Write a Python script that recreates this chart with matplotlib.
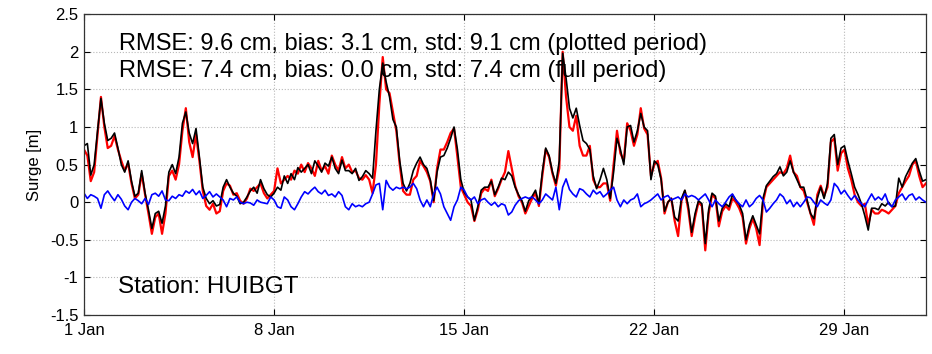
import numpy as np
import matplotlib
matplotlib.use("Agg")
import matplotlib.pyplot as plt
from matplotlib.ticker import FuncFormatter
import matplotlib.dates as mdates

plt.rcParams['font.family'] = ['Liberation Sans', 'DejaVu Sans']

# 3-hourly values, one row per day, from 1 Jan 00:00 to 1 Feb 00:00
model = [
    0.75, 0.78, 0.36, 0.5, 0.95, 1.38, 1.05, 0.82,
    0.85, 0.92, 0.72, 0.5, 0.4, 0.55, 0.28, 0.08,
    0.12, 0.42, 0.12, -0.1, -0.35, -0.15, -0.12, -0.28,
    -0.05, 0.4, 0.5, 0.38, 0.6, 1.05, 1.2, 0.92,
    0.78, 0.98, 0.6, 0.2, 0.05, -0.02, 0.02, -0.05,
    -0.03, 0.2, 0.3, 0.2, 0.12, 0.08, -0.02, 0.0,
    0.07, 0.15, 0.2, 0.12, 0.3, 0.18, 0.1, 0.07,
    0.12, 0.2, 0.16, 0.35, 0.25, 0.38, 0.3, 0.46,
    0.4, 0.45, 0.5, 0.38, 0.55, 0.48, 0.4, 0.52,
    0.48, 0.6, 0.45, 0.38, 0.56, 0.42, 0.42, 0.38,
    0.45, 0.29, 0.34, 0.42, 0.38, 0.32, 0.95, 1.5,
    1.85, 1.6, 1.4, 1.1, 1.0, 0.55, 0.25, 0.15,
    0.25, 0.42, 0.52, 0.6, 0.5, 0.45, 0.3, 0.02,
    0.4, 0.6, 0.62, 0.72, 0.85, 1.0, 0.7, 0.3,
    0.13, 0.07, 0.03, -0.24, -0.06, 0.16, 0.2, 0.2,
    0.28, 0.1, 0.2, 0.32, 0.3, 0.4, 0.35, 0.2,
    0.1, 0.02, -0.12, 0.02, 0.08, 0.16, -0.02, 0.4,
    0.72, 0.62, 0.4, 0.25, 0.55, 1.98, 1.65, 1.25,
    1.12, 1.25, 1.02, 0.82, 0.78, 0.7, 0.35, 0.18,
    0.3, 0.45, 0.3, 0.05, 0.4, 0.85, 0.7, 0.5,
    1.0, 1.02, 0.8, 0.95, 1.18, 1.0, 0.95, 0.3,
    0.55, 0.5, 0.3, -0.12, 0.0, 0.05, -0.2, -0.25,
    0.05, 0.16, -0.05, -0.4, -0.15, 0.02, -0.02, -0.55,
    -0.1, 0.12, 0.08, -0.25, -0.08, -0.02, -0.06, 0.1,
    0.03, -0.03, -0.15, -0.5, -0.3, -0.18, -0.3, -0.42,
    0.05, 0.22, 0.28, 0.34, 0.38, 0.47, 0.35, 0.4,
    0.55, 0.4, 0.3, 0.2, 0.2, 0.03, -0.15, -0.22,
    0.05, 0.2, 0.05, 0.25, 0.85, 0.9, 0.5, 0.72,
    0.75, 0.55, 0.38, 0.2, 0.1, -0.02, -0.18, -0.37,
    -0.08, -0.08, -0.1, -0.02, -0.05, 0.0, -0.06, -0.05,
    0.32, 0.2, 0.34, 0.43, 0.52, 0.58, 0.42, 0.28,
    0.3,
]

observed = [
    0.7, 0.62, 0.28, 0.4, 0.9, 1.4, 1.0, 0.72,
    0.75, 0.88, 0.7, 0.55, 0.42, 0.52, 0.25, 0.05,
    0.1, 0.38, 0.1, -0.15, -0.42, -0.2, -0.15, -0.42,
    -0.15, 0.35, 0.42, 0.3, 0.5, 0.95, 1.25, 0.8,
    0.6, 0.9, 0.55, 0.15, -0.05, -0.1, -0.02, -0.15,
    -0.12, 0.15, 0.25, 0.22, 0.1, 0.12, 0.02, -0.02,
    0.05, 0.18, 0.15, 0.2, 0.25, 0.12, 0.05, 0.1,
    0.15, 0.45, 0.25, 0.3, 0.35, 0.3, 0.42, 0.38,
    0.5, 0.4, 0.52, 0.45, 0.35, 0.55, 0.42, 0.48,
    0.38, 0.62, 0.5, 0.42, 0.6, 0.45, 0.5, 0.4,
    0.42, 0.32, 0.3, 0.36, 0.3, 0.12, 0.5, 1.3,
    1.93, 1.5, 1.45, 1.2, 0.95, 0.5, 0.15, 0.1,
    0.1, 0.3, 0.35, 0.55, 0.48, 0.4, 0.28, 0.0,
    0.45, 0.7, 0.7, 0.8, 0.92, 0.98, 0.6, 0.2,
    0.1, 0.0, -0.05, -0.25, -0.1, 0.12, 0.18, 0.15,
    0.3, 0.08, 0.18, 0.3, 0.4, 0.68, 0.45, 0.22,
    0.08, 0.0, -0.15, -0.05, 0.05, 0.12, -0.05, 0.35,
    0.7, 0.6, 0.38, 0.22, 0.45, 2.0, 1.4, 1.0,
    0.95, 1.15, 0.75, 0.62, 0.62, 0.75, 0.3, 0.2,
    0.2, 0.25, 0.25, 0.02, 0.5, 0.95, 0.65, 0.55,
    1.05, 0.95, 0.75, 0.9, 1.25, 0.98, 0.9, 0.35,
    0.5, 0.55, 0.32, -0.15, 0.0, 0.05, -0.25, -0.45,
    0.02, 0.15, -0.1, -0.45, -0.2, 0.0, -0.05, -0.64,
    -0.15, 0.1, 0.05, -0.32, -0.12, -0.05, -0.1, 0.05,
    0.0, -0.08, -0.2, -0.55, -0.35, -0.22, -0.35, -0.57,
    0.0, 0.2, 0.25, 0.3, 0.35, 0.4, 0.38, 0.45,
    0.62, 0.4, 0.35, 0.2, 0.15, 0.0, -0.15, -0.3,
    0.1, 0.22, 0.08, 0.2, 0.8, 0.85, 0.42, 0.65,
    0.7, 0.45, 0.3, 0.1, 0.0, -0.05, -0.02, -0.3,
    -0.1, -0.15, -0.15, -0.1, -0.12, -0.15, -0.1, -0.05,
    0.12, 0.2, 0.28, 0.35, 0.5, 0.55, 0.35, 0.2,
    0.25,
]

residual = [
    0.12, 0.05, 0.1, 0.08, 0.05, -0.08, 0.1, 0.15,
    0.08, 0.02, 0.1, 0.04, -0.05, -0.1, 0.0, 0.05,
    0.02, -0.02, 0.05, -0.03, 0.1, 0.12, 0.08, 0.15,
    0.03, 0.02, 0.08, 0.05, 0.1, 0.08, 0.15, 0.12,
    0.17, 0.1, 0.15, 0.05, 0.09, 0.14, 0.07, 0.11,
    0.07, 0.03, -0.06, 0.05, 0.03, 0.07, 0.0, -0.02,
    0.0, -0.01, -0.04, 0.03, 0.0, -0.01, -0.02, 0.07,
    0.03, -0.06, -0.08, 0.07, 0.03, -0.06, -0.1, -0.02,
    0.07, 0.14, 0.11, 0.16, 0.2, 0.14, 0.11, 0.16,
    0.09, 0.11, 0.07, 0.14, 0.09, -0.06, -0.1, -0.02,
    -0.06, -0.04, -0.06, -0.02, 0.0, 0.11, 0.23, 0.25,
    -0.1, 0.29, 0.2, 0.16, 0.2, 0.18, 0.2, 0.18,
    0.2, 0.25, 0.18, 0.03, -0.06, 0.03, -0.06, 0.11,
    0.2, 0.11, -0.06, -0.15, -0.24, -0.06, 0.03, 0.2,
    0.16, 0.07, 0.03, 0.07, -0.02, 0.03, 0.05, 0.0,
    -0.04, 0.0, -0.06, -0.02, -0.04, -0.17, -0.13, -0.04,
    0.02, 0.05, 0.07, 0.05, 0.07, 0.03, -0.02, 0.03,
    0.11, 0.07, 0.03, 0.2, -0.1, 0.2, 0.31, 0.17,
    0.11, 0.07, 0.18, 0.16, 0.11, 0.07, 0.16, 0.11,
    0.14, 0.07, 0.11, 0.16, 0.2, 0.03, -0.06, 0.03,
    -0.02, 0.03, 0.05, 0.11, -0.06, -0.02, 0.0, 0.03,
    0.07, 0.11, 0.03, 0.07, 0.09, 0.03, 0.05, 0.07,
    0.03, 0.11, 0.07, 0.09, 0.07, 0.03, 0.07, 0.11,
    0.03, -0.06, 0.03, -0.02, -0.06, 0.0, 0.07, 0.11,
    0.03, -0.02, -0.06, 0.03, -0.06, -0.02, 0.05, 0.09,
    0.03, -0.13, -0.08, -0.02, 0.03, 0.11, 0.07, -0.02,
    0.03, -0.06, 0.0, -0.06, 0.0, 0.07, 0.06, 0.0,
    -0.06, 0.03, -0.01, -0.04, 0.03, 0.25, 0.2, 0.11,
    0.16, 0.09, 0.03, 0.09, 0.03, -0.02, -0.06, 0.03,
    0.11, 0.03, 0.07, 0.03, 0.11, -0.02, -0.06, 0.03,
    0.07, 0.11, 0.03, 0.09, 0.11, 0.03, 0.07, 0.03,
    0.0,
]

stats_lines = [
    "RMSE: 9.6 cm, bias: 3.1 cm, std: 9.1 cm (plotted period)",
    "RMSE: 7.4 cm, bias: 0.0 cm, std: 7.4 cm (full period)",
]
station = "HUIBGT"
tick_days = ['2013-01-01', '2013-01-08', '2013-01-15', '2013-01-22', '2013-01-29']
yticks = [-1.5, -1, -0.5, 0, 0.5, 1, 1.5, 2, 2.5]
ytick_labels = ["-1.5", "-1", "-0.5", "0", "0.5", "1", "1.5", "2", "2.5"]

start = np.datetime64('2013-01-01T00:00')
times = start + np.arange(len(model)) * np.timedelta64(3, 'h')

fig = plt.figure(figsize=(9.32, 3.54), dpi=100)
ax = fig.add_axes([0.0901, 0.110, 0.9034, 0.850])

ax.plot(times, observed, color='red', lw=1.6)
ax.plot(times, model, color='black', lw=1.2)
ax.plot(times, residual, color='blue', lw=1.2)

ax.set_xlim(np.datetime64('2013-01-01'), np.datetime64('2013-02-01'))
ax.set_ylim(-1.5, 2.5)
ax.set_yticks(yticks)
ax.set_yticklabels(ytick_labels)
ax.set_xticks(np.array(tick_days, dtype='datetime64[D]'))
ax.xaxis.set_major_formatter(FuncFormatter(
    lambda v, pos: mdates.num2date(v).strftime('%d %b').lstrip('0')))

ax.tick_params(direction='in', top=True, right=True, length=4, labelsize=12, width=0.8)
ax.tick_params(axis='x', pad=6)
ax.tick_params(axis='y', pad=4)
ax.grid(True, color='#b8b8b8', linestyle=':', linewidth=0.8)
for s in ax.spines.values():
    s.set_linewidth(0.9)
    s.set_color('#333333')
ax.set_ylabel("Surge [m]", fontsize=12, labelpad=6)

ax.text(0.042, 0.90, stats_lines[0], transform=ax.transAxes, fontsize=17, va='center')
ax.text(0.042, 0.81, stats_lines[1], transform=ax.transAxes, fontsize=17, va='center')
ax.text(0.040, 0.093, "Station: " + station, transform=ax.transAxes, fontsize=17.5, va='center')

fig.savefig("out.png", dpi=100)
